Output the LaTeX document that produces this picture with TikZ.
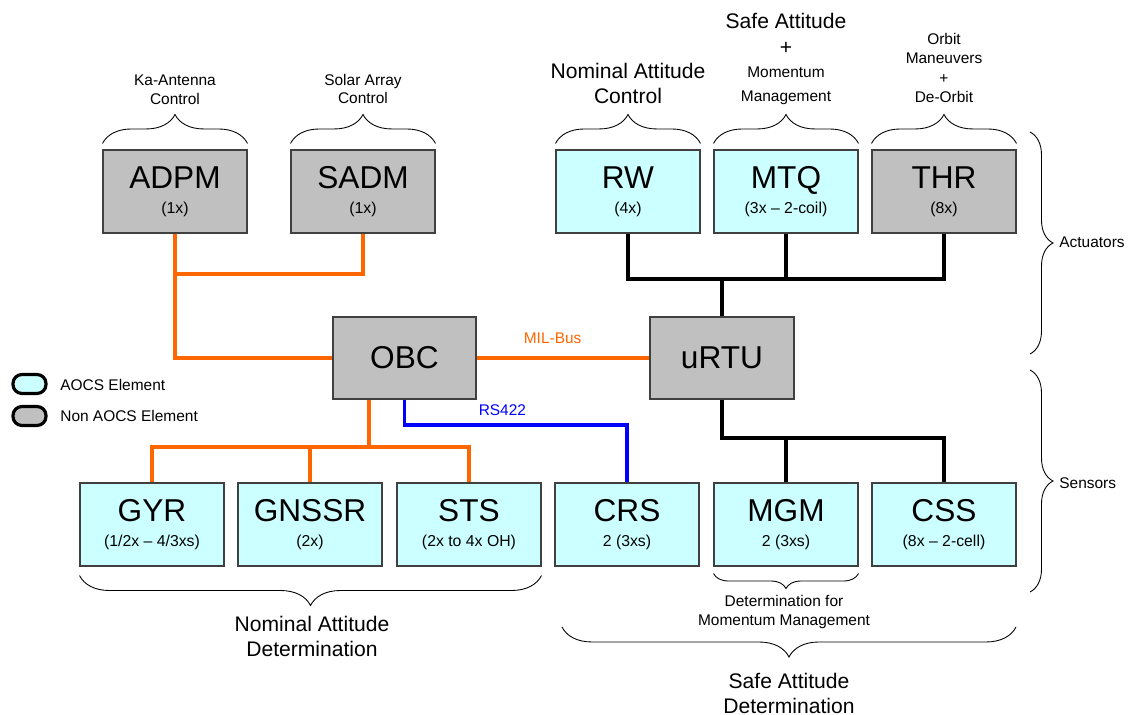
\documentclass[tikz,border=0pt]{standalone}
\usepackage{fontspec}
\setmainfont{Liberation Sans}
\usepackage{xcolor}
\usetikzlibrary{decorations.pathreplacing}
\definecolor{aocsCyan}{HTML}{CCFFFF}
\definecolor{nonGrey}{HTML}{C0C0C0}
\definecolor{busOrange}{HTML}{FF6600}
\definecolor{busBlue}{HTML}{0000FF}
\newcommand{\unitname}[1]{{\fontsize{18}{18}\selectfont #1}}
\tikzset{
unitbox/.style = {rectangle, draw=black!75, line width=0.6pt, fill=#1,
                  minimum width=2.88cm, minimum height=1.66cm,
                  inner sep=0pt, align=center,
                  font=\fontsize{9}{14}\selectfont},
unitbox/.default = aocsCyan % AOCS element
}
\tikzset{
milbus/.style = {draw=busOrange, line width=2pt},
rsbus/.style = {draw=busBlue, line width=2pt},
rtubus/.style = {draw=black, line width=2pt},
curly/.style = {draw=black, line width=0.5pt, decorate,
                decoration={brace, amplitude=#1}},
curly/.default = 0.58cm,
lbl/.style = {align=center, inner sep=0pt, font=\fontsize{8.8}{10.6}\selectfont},
biglbl/.style = {align=center, inner sep=0pt, font=\fontsize{12}{14.2}\selectfont},
legendkey/.style = {rectangle, rounded corners=0.18cm, draw=black, line width=1.8pt,
                    fill=#1, minimum width=0.66cm, minimum height=0.38cm}
}

\begin{document}
\begin{tikzpicture}[x=0.02cm, y=-0.02cm]
    \useasboundingbox (0,0) rectangle (1137,715);

    % actuators
    \node[unitbox=nonGrey] (ADPM) at (175,191.5) {\unitname{ADPM}\\(1x)};
    \node[unitbox=nonGrey] (SADM) at (363,191.5) {\unitname{SADM}\\(1x)};
    \node[unitbox] (RW)  at (628,191.5) {\unitname{RW}\\(4x)};
    \node[unitbox] (MTQ) at (786,191.5) {\unitname{MTQ}\\(3x -- 2-coil)};
    \node[unitbox=nonGrey] (THR) at (944,191.5) {\unitname{THR}\\(8x)};

    % computers
    \node[unitbox=nonGrey, minimum width=2.86cm, minimum height=1.64cm] (OBC) at (404.5,358) {\unitname{OBC}};
    \node[unitbox=nonGrey, minimum height=1.64cm] (uRTU) at (722,358) {\unitname{uRTU}};

    % sensors
    \node[unitbox] (GYR)   at (152,524.5) {\unitname{GYR}\\(1/2x -- 4/3xs)};
    \node[unitbox] (GNSSR) at (310,524.5) {\unitname{GNSSR}\\(2x)};
    \node[unitbox] (STS)   at (469,524.5) {\unitname{STS}\\(2x to 4x OH)};
    \node[unitbox] (CRS)   at (627,524.5) {\unitname{CRS}\\2 (3xs)};
    \node[unitbox] (MGM)   at (786,524.5) {\unitname{MGM}\\2 (3xs)};
    \node[unitbox] (CSS)   at (944,524.5) {\unitname{CSS}\\(8x -- 2-cell)};

    \coordinate (adpmJoin) at (175,274);
    \coordinate (obcBus) at (369,447);
    \coordinate (rsTurn) at (627,425);
    \coordinate (actBus) at (722,279);
    \coordinate (senBus) at (722,438);

    \draw[milbus] (ADPM.south) |- (OBC.west);
    \draw[milbus] (SADM.south) |- (adpmJoin);
    \draw[milbus] (OBC.east) -- node[above=0.25cm, pos=0.44, inner sep=0pt, text=busOrange,
        font=\fontsize{8.8}{10}\selectfont]{MIL-Bus} (uRTU.west);
    \draw[milbus] (OBC.south -| obcBus) -- (obcBus);
    \draw[milbus] (GYR.north) -- (GYR.north |- obcBus) -- (STS.north |- obcBus) -- (STS.north);
    \draw[milbus] (GNSSR.north) -- (GNSSR.north |- obcBus);

    \draw[rsbus] (OBC.south) |- node[above=0.15cm, pos=0.72, inner sep=0pt, text=busBlue,
        font=\fontsize{8.8}{10}\selectfont]{RS422} (rsTurn) -- (CRS.north);

    \draw[rtubus] (RW.south) |- (THR.south |- actBus) -- (THR.south);
    \draw[rtubus] (MTQ.south) -- (MTQ.south |- actBus);
    \draw[rtubus, line width=2.5pt] (uRTU.north) -- (actBus);
    \draw[rtubus] (uRTU.south) |- (CSS.north |- senBus) -- (CSS.north);
    \draw[rtubus] (MGM.north) -- (MGM.north |- senBus);

    % braces on top
    \draw[curly] ([yshift=0.12cm]ADPM.north west) -- ([yshift=0.12cm]ADPM.north east);
    \draw[curly] ([yshift=0.12cm]SADM.north west) -- ([yshift=0.12cm]SADM.north east);
    \draw[curly] ([yshift=0.12cm]RW.north west) -- ([yshift=0.12cm]RW.north east);
    \draw[curly] ([yshift=0.12cm]MTQ.north west) -- ([yshift=0.12cm]MTQ.north east);
    \draw[curly] ([yshift=0.12cm]THR.north west) -- ([yshift=0.12cm]THR.north east);
    \node[lbl] (kaLbl) at (175,90) {Ka-Antenna\\Control};
    \node[lbl] (saLbl) at (363,89) {Solar Array\\Control};
    \node[biglbl] (nacLbl) at (628,83) {Nominal Attitude\\Control};
    \node[lbl, font=\fontsize{8.8}{13.4}\selectfont] (sampLbl) at (786,59)
        {{\fontsize{12}{13.4}\selectfont Safe Attitude}\\[1pt]{\fontsize{12}{13.4}\selectfont +}\\Momentum\\Management};
    \node[lbl, font=\fontsize{8.8}{11}\selectfont] (omLbl) at (944,68) {Orbit\\Maneuvers\\+\\De-Orbit};

    % braces on the right
    \coordinate (actTop) at (1030,132);
    \coordinate (actBot) at (1030,354);
    \coordinate (senTop) at (1030,370);
    \coordinate (senBot) at (1030,592);
    \draw[curly=0.46cm] (actTop) -- (actBot);
    \draw[curly=0.46cm] (senTop) -- (senBot);
    \node[lbl, anchor=west] (actLbl) at (1059,242) {Actuators};
    \node[lbl, anchor=west] (senLbl) at (1059,483) {Sensors};

    % braces below
    \coordinate (sadLeft) at (562,627);
    \coordinate (sadRight) at (1016,627);
    \draw[curly=0.6cm] ([yshift=-0.18cm]STS.south east) -- ([yshift=-0.18cm]GYR.south west);
    \draw[curly=0.3cm] ([yshift=-0.14cm]MGM.south east) -- ([yshift=-0.14cm]MGM.south west);
    \draw[curly=0.6cm] (sadRight) -- (sadLeft);
    \node[biglbl] (nadLbl) at (312,636) {Nominal Attitude\\Determination};
    \node[lbl] (dmmLbl) at (784,612) {Determination for\\Momentum Management};
    \node[biglbl] (sadLbl) at (789,693) {Safe Attitude\\Determination};

    % legend
    \node[legendkey=aocsCyan] (legAocs) at (29.5,384) {};
    \node[legendkey=nonGrey] (legNon) at (29.5,416) {};
    \node[lbl, anchor=west] (legAocsTxt) at (60,385) {AOCS Element};
    \node[lbl, anchor=west] (legNonTxt) at (60,416) {Non AOCS Element};
\end{tikzpicture}
\end{document}
